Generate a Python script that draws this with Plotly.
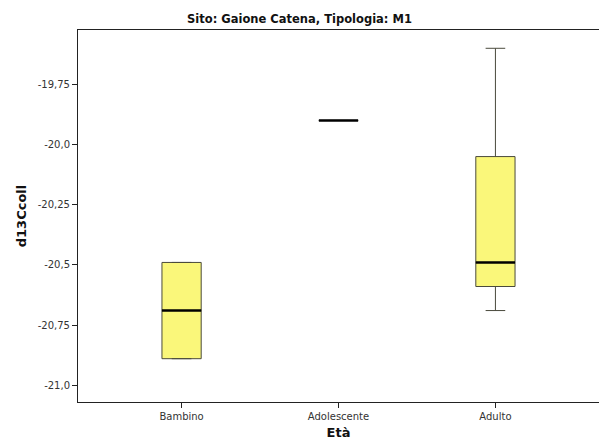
import plotly.graph_objects as go

# Age groups and box statistics of d13Ccoll
categories = ["Bambino", "Adolescente", "Adulto"]
lower_fence = [-20.89, -19.90, -20.69]
q1 = [-20.89, -19.90, -20.59]
median = [-20.69, -19.90, -20.49]
q3 = [-20.49, -19.90, -20.05]
upper_fence = [-20.49, -19.90, -19.60]

y_tick_vals = [-19.75, -20.0, -20.25, -20.5, -20.75, -21.0]
y_tick_text = ["-19,75", "-20,0", "-20,25", "-20,5", "-20,75", "-21,0"]

positions = list(range(len(categories)))
box_width = 0.25

fig = go.Figure()

fig.add_trace(go.Box(
    x=positions,
    lowerfence=lower_fence,
    q1=q1,
    median=median,
    q3=q3,
    upperfence=upper_fence,
    width=box_width,
    whiskerwidth=0.5,
    fillcolor="#faf77a",
    line=dict(color="#4a4a3c", width=1),
    boxpoints=False,
    hoverinfo="skip",
    showlegend=False,
))

# heavier median bars on top of each box
for x, m in zip(positions, median):
    fig.add_trace(go.Scatter(
        x=[x - box_width / 2, x + box_width / 2],
        y=[m, m],
        mode="lines",
        line=dict(color="#000000", width=2.5),
        hoverinfo="skip",
        showlegend=False,
    ))

font_family = "DejaVu Sans, Verdana, sans-serif"

fig.update_layout(
    width=599,
    height=441,
    margin=dict(l=78, r=0, t=30, b=39),
    paper_bgcolor="white",
    plot_bgcolor="white",
    font=dict(family=font_family, size=10, color="#333333"),
    title=dict(
        text="<b>Sito: Gaione Catena, Tipologia: M1</b>",
        x=0.5, xanchor="center",
        y=1 - 19 / 441, yanchor="middle",
        font=dict(size=11.5, color="#111111"),
    ),
    xaxis=dict(
        range=[-0.66, 2.66],
        tickmode="array",
        tickvals=positions,
        ticktext=categories,
        ticks="outside",
        ticklen=5,
        tickcolor="#222222",
        showline=True,
        linecolor="#222222",
        linewidth=1,
        mirror=True,
        showgrid=False,
        zeroline=False,
        tickfont=dict(size=10),
        title=dict(text="<b>Età</b>", font=dict(size=13, color="#111111"), standoff=6),
    ),
    yaxis=dict(
        range=[-21.07, -19.524],
        tickmode="array",
        tickvals=y_tick_vals,
        ticktext=y_tick_text,
        ticks="outside",
        ticklen=5,
        tickcolor="#222222",
        showline=True,
        linecolor="#222222",
        linewidth=1,
        showgrid=False,
        zeroline=False,
        tickfont=dict(size=10),
        title=dict(text="<b>d13Ccoll</b>", font=dict(size=13, color="#111111"), standoff=8),
    ),
)

fig.write_html("out.html")
